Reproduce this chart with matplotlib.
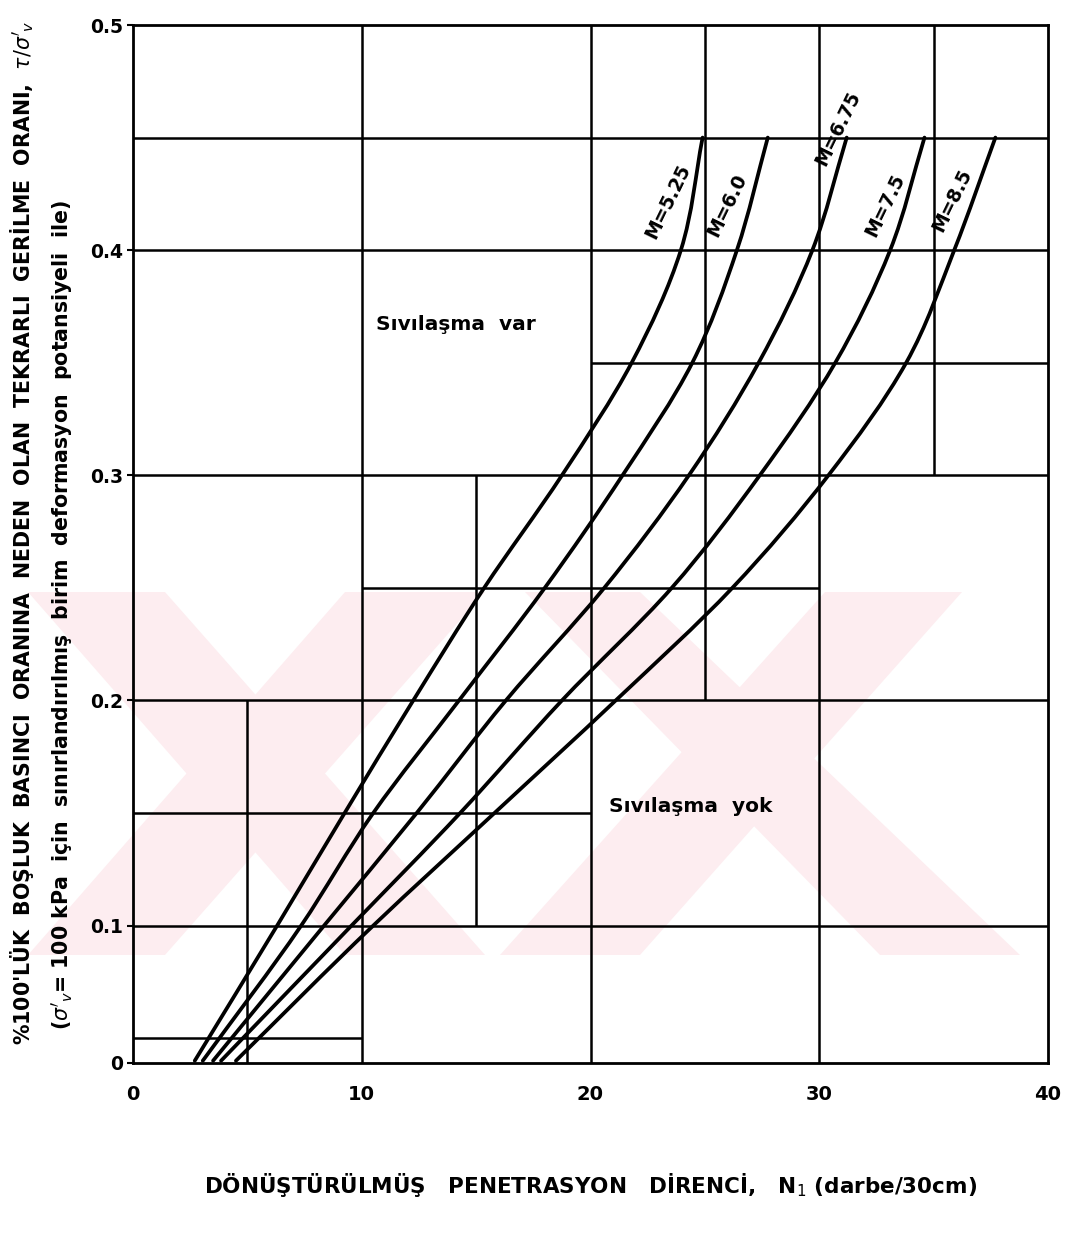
import matplotlib
matplotlib.use("Agg")
import matplotlib.pyplot as plt
from matplotlib.patches import Polygon, PathPatch
from matplotlib.path import Path

plt.rcParams['font.family'] = ['DejaVu Sans']

# ---------------- data ----------------
y_bottom = 0.039  # lower edge of the plotted frame (labelled "0")
y_levels = [0.04, 0.10, 0.15, 0.20, 0.25, 0.30, 0.35, 0.40, 0.45]
m_labels = ["M=5.25", "M=6.0", "M=6.75", "M=7.5", "M=8.5"]
n_m525 = [2.7, 6.3, 9.25, 12.25, 15.35, 18.75, 21.8, 23.95, 24.9]
n_m600 = [3.05, 7.35, 10.5, 14.25, 18.0, 21.4, 24.45, 26.4, 27.75]
n_m675 = [3.5, 8.35, 12.4, 16.3, 20.6, 24.3, 27.35, 29.7, 31.2]
n_m750 = [3.85, 9.55, 14.3, 18.75, 23.55, 27.4, 30.7, 33.1, 34.6]
n_m850 = [4.5, 10.5, 15.8, 21.1, 26.2, 30.4, 33.8, 35.9, 37.7]
curves = [n_m525, n_m600, n_m675, n_m750, n_m850]
label_x = [23.4, 25.95, 30.8, 32.9, 35.8]
label_y = [0.4215, 0.420, 0.454, 0.420, 0.422]

x_ticks = [0, 10, 20, 30, 40]
x_tick_labels = ["0", "10", "20", "30", "40"]
y_ticks = [y_bottom, 0.1, 0.2, 0.3, 0.4, 0.5]
y_tick_labels = ["0", "0.1", "0.2", "0.3", "0.4", "0.5"]

# frame lines of the original sheet
h_lines = [(0.45, 0, 40), (0.40, 0, 40), (0.35, 20, 40), (0.30, 0, 40),
           (0.25, 10, 30), (0.20, 0, 40), (0.15, 0, 20), (0.10, 0, 40),
           (0.05, 0, 10)]
v_lines = [(5, y_bottom, 0.20), (10, y_bottom, 0.5), (15, 0.10, 0.30),
           (20, y_bottom, 0.5), (25, 0.20, 0.5), (30, y_bottom, 0.5),
           (35, 0.30, 0.5)]

region_texts = ["Sıvılaşma  var", "Sıvılaşma  yok"]
region_x = [14.1, 24.4]
region_y = [0.367, 0.153]


def smooth_path(xs, ys):
    """Cubic Hermite (x as a function of y) through the read points, as a Bezier path."""
    n = len(ys)
    h = [ys[i + 1] - ys[i] for i in range(n - 1)]
    dl = [(xs[i + 1] - xs[i]) / h[i] for i in range(n - 1)]
    d = [0.0] * n
    d[0] = dl[0]
    d[-1] = dl[-1]
    for i in range(1, n - 1):
        d[i] = (h[i] * dl[i - 1] + h[i - 1] * dl[i]) / (h[i - 1] + h[i])
    verts = [(xs[0], ys[0])]
    codes = [Path.MOVETO]
    for i in range(n - 1):
        verts += [(xs[i] + d[i] * h[i] / 3, ys[i] + h[i] / 3),
                  (xs[i + 1] - d[i + 1] * h[i] / 3, ys[i + 1] - h[i] / 3),
                  (xs[i + 1], ys[i + 1])]
        codes += [Path.CURVE4] * 3
    return Path(verts, codes)


# ---------------- figure ----------------
W, H = 1069, 1240
fig = plt.figure(figsize=(W / 100, H / 100), dpi=100)
ax = fig.add_axes([133 / W, 1 - 1063 / H, (1048 - 133) / W, (1063 - 25) / H])
ax.set_facecolor('none')

# faint watermark (pink XX) behind the chart, in figure pixels
pink = '#fdedf0'
def band(top_l, top_r, bot_l, bot_r, y0=592, y1=955):
    return Polygon([(top_l, H - y0), (top_r, H - y0), (bot_r, H - y1), (bot_l, H - y1)],
                   closed=True, transform=None, facecolor=pink, edgecolor='none', zorder=-5)
for p in [band(28, 165, 345, 485), band(345, 485, 28, 165),
          band(525, 640, 880, 1020), band(825, 962, 500, 640)]:
    fig.patches.append(p)

for yv, xa, xb in h_lines:
    ax.plot([xa, xb], [yv, yv], color='black', lw=1.8, solid_capstyle='butt', zorder=2)
for xv, ya, yb in v_lines:
    ax.plot([xv, xv], [ya, yb], color='black', lw=1.8, solid_capstyle='butt', zorder=2)

for xs, lab, lx, ly in zip(curves, m_labels, label_x, label_y):
    ax.add_patch(PathPatch(smooth_path(xs, y_levels), fill=False, edgecolor='black',
                           lw=2.7, capstyle='round', zorder=3))
    ax.text(lx, ly, lab, rotation=64, ha='center', va='center', fontsize=13.5,
            fontweight='bold', zorder=4)

for t, tx, ty in zip(region_texts, region_x, region_y):
    ax.text(tx, ty, t, ha='center', va='center', fontsize=14.5, fontweight='bold', zorder=4)

ax.set_xlim(0, 40)
ax.set_ylim(y_bottom, 0.5)
for s in ax.spines.values():
    s.set_linewidth(2.0)
ax.set_xticks(x_ticks)
ax.set_xticklabels(x_tick_labels, fontsize=14, fontweight='bold')
ax.set_yticks(y_ticks)
ax.set_yticklabels(y_tick_labels, fontsize=13.5, fontweight='bold')
ax.tick_params(axis='both', length=4, width=1.5, pad=3)
ax.tick_params(axis='x', length=0, pad=16)

ax.set_xlabel("DÖNÜŞTÜRÜLMÜŞ   PENETRASYON   DİRENCİ,   N$_1$ (darbe/30cm)",
              fontsize=15.5, fontweight='bold', labelpad=48)

fig.text(22 / W, 1 - 533 / H,
         "%100'LÜK  BOŞLUK  BASINCI  ORANINA  NEDEN  OLAN  TEKRARLI  GERİLME  ORANI,  $\\tau/\\sigma'_v$",
         rotation=90, ha='center', va='center', fontsize=14.8, fontweight='bold')
fig.text(62 / W, 1 - 615 / H,
         "($\\sigma'_v$= 100 kPa  için  sınırlandırılmış  birim  deformasyon  potansiyeli  ile)",
         rotation=90, ha='center', va='center', fontsize=14.8, fontweight='bold')

fig.savefig("out.png", dpi=100)
